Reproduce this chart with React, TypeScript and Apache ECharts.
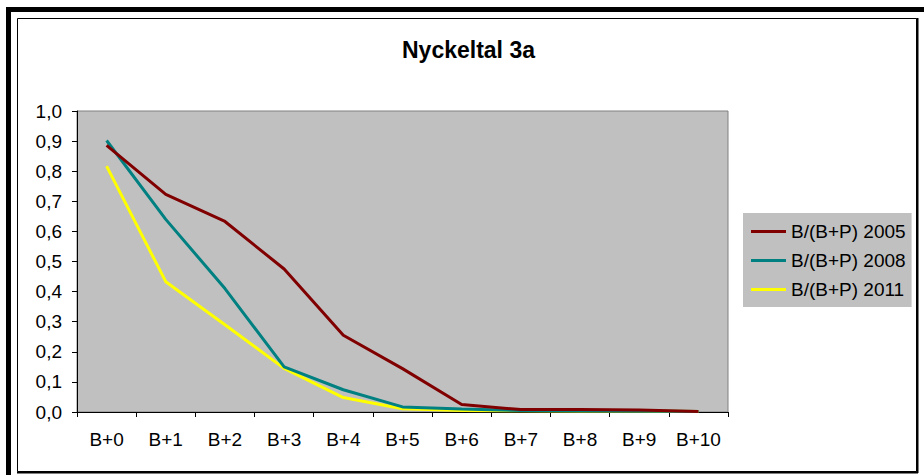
import React, { useEffect, useRef } from "react";
import * as echarts from "echarts";

const categories = ["B+0", "B+1", "B+2", "B+3", "B+4", "B+5", "B+6", "B+7", "B+8", "B+9", "B+10"];
const s2005 = [0.886, 0.723, 0.633, 0.475, 0.255, 0.144, 0.025, 0.008, 0.008, 0.007, 0.002];
const s2008 = [0.902, 0.64, 0.41, 0.15, 0.074, 0.017, 0.01, 0.005, 0.004, 0.003, 0.002];
const s2011 = [0.817, 0.433, 0.29, 0.145, 0.048, 0.011, 0.005, 0.004, 0.003, 0.003, 0.002];
const seriesNames = ["B/(B+P) 2005", "B/(B+P) 2008", "B/(B+P) 2011"];
const colors = ["#800000", "#008080", "#FFFF00"];

export default function App() {
  const ref = useRef<HTMLDivElement>(null);
  useEffect(() => {
    if (!ref.current) return;
    const chart = echarts.init(ref.current, undefined, { renderer: "svg" });
    const font = "Arial, 'Liberation Sans', sans-serif";
    const data = [s2005, s2008, s2011];
    chart.setOption({
      animation: false,
      backgroundColor: "#ffffff",
      textStyle: { fontFamily: font },
      title: {
        text: "Nyckeltal 3a",
        left: 402,
        top: 38,
        padding: 0,
        textStyle: { fontFamily: font, fontSize: 23, fontWeight: "bold", color: "#000" },
      },
      graphic: [
        { type: "rect", shape: { x: 6, y: 7, width: 918, height: 5 }, style: { fill: "#000" }, silent: true },
        { type: "rect", shape: { x: 6, y: 7, width: 5, height: 468 }, style: { fill: "#000" }, silent: true },
        {
          type: "rect",
          shape: { x: 17.5, y: 18.5, width: 899, height: 453 },
          style: { fill: "none", stroke: "#000", lineWidth: 1 },
          silent: true,
        },
        { type: "line", shape: { x1: 917.5, y1: 18, x2: 917.5, y2: 473 }, style: { stroke: "#000", lineWidth: 2 }, silent: true },
        { type: "line", shape: { x1: 17, y1: 472.5, x2: 918, y2: 472.5 }, style: { stroke: "#000", lineWidth: 2 }, silent: true },
      ],
      legend: {
        orient: "vertical",
        left: 743,
        top: 213,
        padding: [9, 6, 8, 8],
        backgroundColor: "#C0C0C0",
        itemWidth: 35,
        itemHeight: 3,
        itemGap: 10,
        icon: "rect",
        data: seriesNames,
        textStyle: { fontFamily: font, fontSize: 19, color: "#000", lineHeight: 19 },
      },
      grid: {
        left: 77,
        right: 196,
        top: 111,
        bottom: 63,
        show: true,
        backgroundColor: "#C0C0C0",
        borderColor: "#808080",
        borderWidth: 1,
      },
      xAxis: {
        type: "category",
        data: categories,
        boundaryGap: true,
        axisLine: { lineStyle: { color: "#000", width: 1 } },
        axisTick: { show: true, length: 5, inside: false, alignWithLabel: false, lineStyle: { color: "#000" } },
        axisLabel: { fontFamily: font, fontSize: 19, color: "#000", margin: 18, interval: 0 },
        splitLine: { show: false },
      },
      yAxis: {
        type: "value",
        min: 0,
        max: 1,
        interval: 0.1,
        axisLine: { show: true, lineStyle: { color: "#000", width: 1 } },
        axisTick: { show: true, length: 5, lineStyle: { color: "#000" } },
        axisLabel: {
          fontFamily: font,
          fontSize: 19,
          color: "#000",
          margin: 15,
          formatter: (v: number) => v.toFixed(1).replace(".", ","),
        },
        splitLine: { show: false },
      },
      series: seriesNames.map((name, i) => ({
        name,
        type: "line",
        data: data[i],
        showSymbol: false,
        symbol: "none",
        color: colors[i],
        lineStyle: { color: colors[i], width: 3 },
        z: 3 - i + 2,
      })),
    });
    return () => chart.dispose();
  }, []);
  return (
    <div
      ref={ref}
      style={{ position: "fixed", left: 0, top: 0, width: 924, height: 475 }}
    />
  );
}
